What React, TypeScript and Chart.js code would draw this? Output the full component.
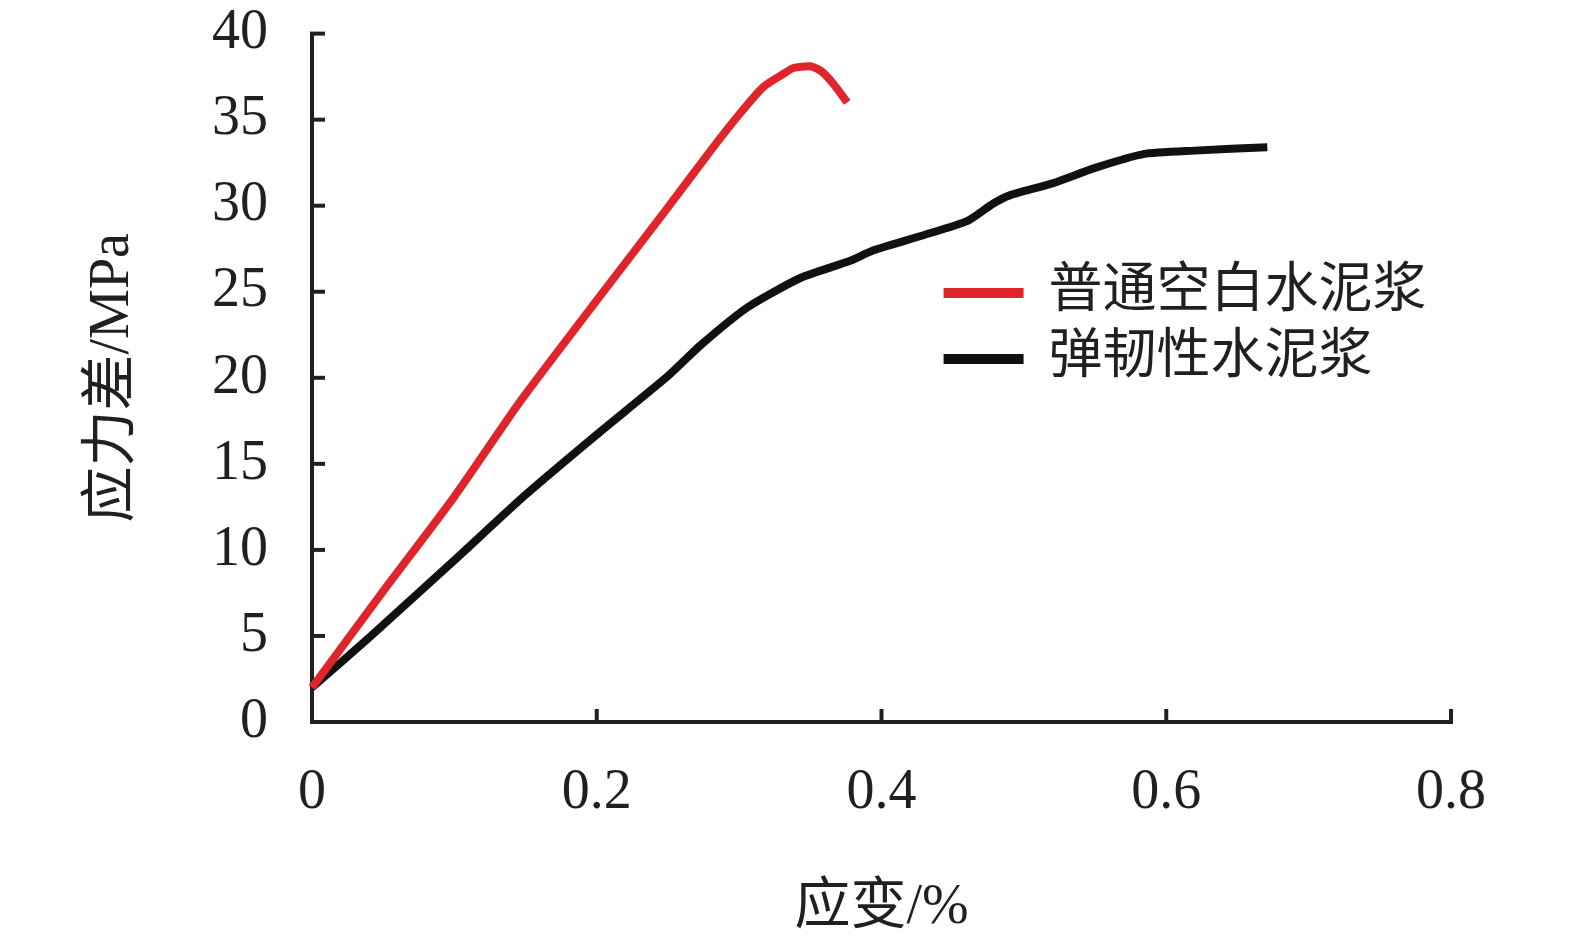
import { useEffect, useRef } from "react";
import { Chart, registerables } from "chart.js";

Chart.register(...registerables);

// ---- data ----
const seriesNames = ["普通空白水泥浆", "弹韧性水泥浆"];
const seriesColors = ["#e0242c", "#111111"];

const strainRed = [0, 0.05, 0.1, 0.146, 0.2, 0.25, 0.28, 0.3, 0.317, 0.33, 0.338, 0.35, 0.358, 0.366, 0.376];
const stressRed = [2.0, 7.6, 13.1, 18.6, 24.5, 29.9, 33.2, 35.3, 36.9, 37.6, 38.0, 38.1, 37.8, 37.1, 36.0];

const strainBlack = [0, 0.04, 0.1, 0.15, 0.2, 0.25, 0.273, 0.306, 0.343, 0.378, 0.394, 0.43, 0.46, 0.478, 0.49, 0.52, 0.55, 0.584, 0.62, 0.671];
const stressBlack = [2.0, 4.9, 9.4, 13.2, 16.7, 20.1, 21.9, 24.1, 25.8, 26.8, 27.4, 28.3, 29.1, 30.1, 30.6, 31.3, 32.2, 33.0, 33.2, 33.4];

const xMin = 0;
const xMax = 0.8;
const xStep = 0.2;
const yMin = 0;
const yMax = 40;
const yStep = 5;

const xTitle = "应变/%";
const yTitle = "应力差/MPa";

const AXIS_COLOR = "#231f20";
const TEXT_COLOR = "#231f20";
const SERIF = "'Liberation Serif', 'Noto Sans CJK SC', serif";

const innerTicks = {
  id: "innerTicks",
  afterDraw(chart: any) {
    const { ctx, chartArea } = chart;
    const xs = chart.scales.x;
    const ys = chart.scales.y;
    ctx.save();
    ctx.strokeStyle = AXIS_COLOR;
    ctx.lineWidth = 4;
    ctx.lineCap = "butt";
    const len = 13;
    xs.ticks.forEach((t: any) => {
      if (t.value === xMin) return;
      const px = xs.getPixelForValue(t.value);
      ctx.beginPath();
      ctx.moveTo(px, chartArea.bottom + 2);
      ctx.lineTo(px, chartArea.bottom - len);
      ctx.stroke();
    });
    ys.ticks.forEach((t: any) => {
      if (t.value === yMin) return;
      const py = ys.getPixelForValue(t.value);
      ctx.beginPath();
      ctx.moveTo(chartArea.left - 2, py);
      ctx.lineTo(chartArea.left + len, py);
      ctx.stroke();
    });
    ctx.restore();
  },
};

const customLegend = {
  id: "customLegend",
  afterDraw(chart: any) {
    const { ctx, chartArea } = chart;
    const w = chartArea.right - chartArea.left;
    const x0 = chartArea.left + w * 0.5545;
    const x1 = x0 + 80;
    const tx = x0 + 105;
    const rows = [293, 359];
    ctx.save();
    chart.data.datasets.forEach((ds: any, i: number) => {
      const y = rows[i];
      ctx.strokeStyle = ds.borderColor;
      ctx.lineWidth = 10;
      ctx.lineCap = "butt";
      ctx.beginPath();
      ctx.moveTo(x0, y);
      ctx.lineTo(x1, y);
      ctx.stroke();
      ctx.fillStyle = TEXT_COLOR;
      ctx.font = `54px ${SERIF}`;
      ctx.textAlign = "left";
      ctx.textBaseline = "middle";
      ctx.fillText(ds.label, tx, y);
    });
    ctx.restore();
  },
};

export default function App() {
  const ref = useRef<HTMLCanvasElement | null>(null);

  useEffect(() => {
    if (!ref.current) return;
    const chart = new Chart(ref.current, {
      type: "line",
      data: {
        datasets: [
          {
            label: seriesNames[0],
            data: strainRed.map((x, i) => ({ x, y: stressRed[i] })),
            borderColor: seriesColors[0],
            borderWidth: 8,
            pointRadius: 0,
            tension: 0.2,
            fill: false,
            clip: false as any,
          },
          {
            label: seriesNames[1],
            data: strainBlack.map((x, i) => ({ x, y: stressBlack[i] })),
            borderColor: seriesColors[1],
            borderWidth: 8,
            pointRadius: 0,
            tension: 0.2,
            fill: false,
            clip: false as any,
          },
        ],
      },
      options: {
        responsive: false,
        animation: false,
        devicePixelRatio: 1,
        layout: { padding: { top: 33, right: 124, bottom: 0, left: 0 } },
        plugins: {
          legend: { display: false },
          tooltip: { enabled: false },
        },
        scales: {
          x: {
            type: "linear",
            min: xMin,
            max: xMax,
            afterFit: (s: any) => {
              s.height = 220;
            },
            ticks: {
              stepSize: xStep,
              padding: 38,
              color: TEXT_COLOR,
              font: { family: SERIF, size: 56 },
            },
            grid: { display: false, drawTicks: false },
            border: { display: true, color: AXIS_COLOR, width: 4 },
            title: {
              display: true,
              text: xTitle,
              color: TEXT_COLOR,
              font: { family: SERIF, size: 56 },
              padding: { top: 0, bottom: 0 },
            },
          },
          y: {
            type: "linear",
            min: yMin,
            max: yMax,
            afterFit: (s: any) => {
              s.width = 312;
            },
            ticks: {
              stepSize: yStep,
              padding: 0,
              color: TEXT_COLOR,
              font: { family: SERIF, size: 56 },
            },
            grid: {
              display: true,
              drawOnChartArea: false,
              drawTicks: true,
              tickLength: 44,
              tickColor: "rgba(0,0,0,0)",
              color: "rgba(0,0,0,0)",
            },
            border: { display: true, color: AXIS_COLOR, width: 4 },
            title: {
              display: true,
              text: yTitle,
              color: TEXT_COLOR,
              font: { family: SERIF, size: 56 },
              padding: { top: 80, bottom: 0 },
            },
          },
        },
      },
      plugins: [innerTicks, customLegend],
    });
    return () => chart.destroy();
  }, []);

  return (
    <div style={{ position: "absolute", left: 0, top: 0, width: 1575, height: 942, background: "#fff" }}>
      <canvas ref={ref} width={1575} height={942} style={{ display: "block" }} />
    </div>
  );
}
